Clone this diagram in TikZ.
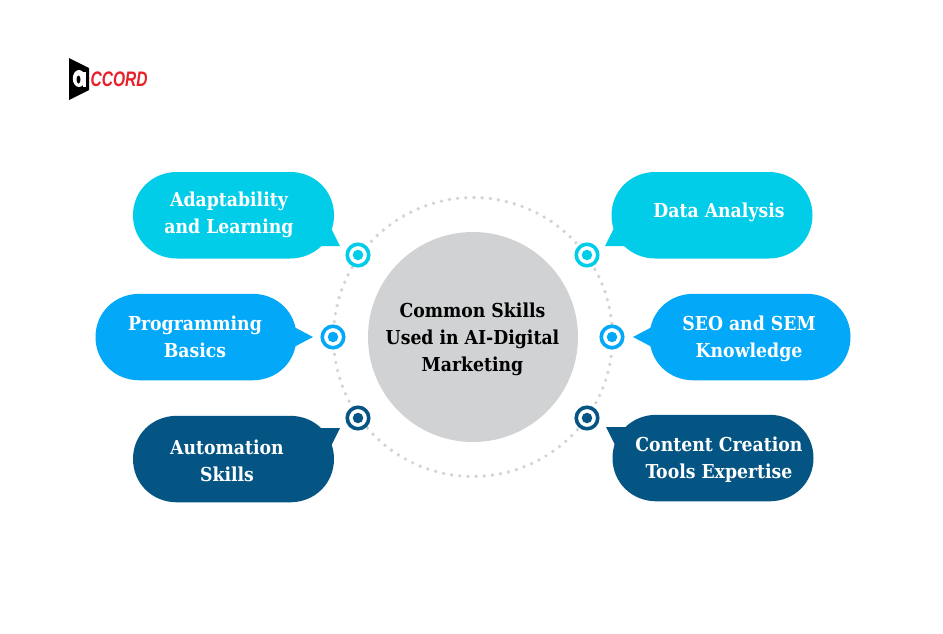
\documentclass[tikz,border=0pt]{standalone}
\usepackage{fontspec}
\setmainfont{DejaVu Serif Condensed}
\newfontfamily\logofont{Liberation Sans}
\definecolor{cyanB}{HTML}{01CDE9}
\definecolor{blueB}{HTML}{03A9F8}
\definecolor{darkB}{HTML}{055584}
\definecolor{greyC}{HTML}{D1D2D4}
\definecolor{dotC}{HTML}{D3D3D3}
\definecolor{logoR}{HTML}{E8202A}
\newcommand\labelfont{\fontsize{19.2}{27}\selectfont\bfseries}
\newcommand\bubbleshape[3]{%
  \fill[#3,shift={(#1,#2)}] (44,0) -- (157,0)
    .. controls (182,0) and (201,19) .. (201,43.2)
    .. controls (201,67.5) and (182,86.5) .. (157,86.5)
    -- (44,86.5)
    .. controls (19,86.5) and (0,67.5) .. (0,43.2)
    .. controls (0,19) and (19,0) .. (44,0) -- cycle;}
\tikzset{
  bubbletext/.style={inner sep=0pt,text=white,align=center,font=\labelfont},
  ringmark/.style={circle,draw=#1,line width=3.6pt,fill=white,minimum size=21.5pt,inner sep=0pt},
  coremark/.style={circle,fill=#1,minimum size=10.5pt,inner sep=0pt},
}
\begin{document}
\begin{tikzpicture}[x=1pt,y=-1pt]
\useasboundingbox (0,0) rectangle (943,633);
\fill[white] (0,0) rectangle (943,633);
% logo
\fill[black] (69,58) -- (89,68) -- (89,90) -- (69,100) -- cycle;
\fill[white] (79,78.5) ellipse[x radius=6.2,y radius=8.5];
\fill[black] (78.5,79.5) ellipse[x radius=2,y radius=4];
\fill[white] (82.5,72) rectangle (85.5,86.5);
\node[anchor=west,inner sep=0pt,text=logoR,font=\fontsize{21}{22}\logofont\bfseries\itshape] (logot) at (90.5,79.5) {\scalebox{0.74}[1]{CCORD}};
% ring
\foreach \i in {0,...,106}{
  \fill[dotC] ({473+139.5*cos(270.4+\i*3.3645)},{337+139.5*sin(270.4+\i*3.3645)}) circle[radius=1.85];
}
% centre
\node[circle,fill=greyC,minimum size=210pt,inner sep=0pt] (core) at (473,337) {};
\node[inner sep=0pt,align=center,text=black,font=\labelfont] (coretext) at (472.5,339)
  {Common Skills\\Used in AI-Digital\\Marketing};
% bubbles
\bubbleshape{133}{172}{cyanB}
\bubbleshape{95.5}{293.8}{blueB}
\bubbleshape{133}{415.8}{darkB}
\bubbleshape{611.5}{172}{cyanB}
\bubbleshape{649.5}{293.8}{blueB}
\bubbleshape{612.5}{414.8}{darkB}
% tails
\fill[cyanB] (331,228) -- (340,246) -- (318,246) -- cycle;
\fill[blueB] (294,327) -- (313,337) -- (294,347) -- cycle;
\fill[darkB] (318,428) -- (340,428) -- (331,446) -- cycle;
\fill[cyanB] (614,228) -- (605,246) -- (627,246) -- cycle;
\fill[blueB] (652,327) -- (633,337) -- (652,347) -- cycle;
\fill[darkB] (627,427) -- (606,427) -- (615,445) -- cycle;
% labels
\node[bubbletext] (b1) at (229,215) {Adaptability\\and Learning};
\node[bubbletext] (b2) at (195,337) {Programming\\Basics};
\node[bubbletext] (b3) at (227,461) {Automation\\Skills};
\node[bubbletext] (b4) at (719,212) {Data Analysis};
\node[bubbletext] (b5) at (749,339) {SEO and SEM\\Knowledge};
\node[bubbletext] (b6) at (719,460) {Content Creation\\Tools Expertise};
% markers
\foreach \n/\x/\y/\c in {m1/358/255/cyanB,m2/333/337/blueB,m3/358/418/darkB,m4/587/255/cyanB,m5/612/337/blueB,m6/587/418/darkB}{
  \node[ringmark=\c] (\n) at (\x,\y) {};
  \node[coremark=\c] (\n c) at (\x,\y) {};
}
\end{tikzpicture}
\end{document}
